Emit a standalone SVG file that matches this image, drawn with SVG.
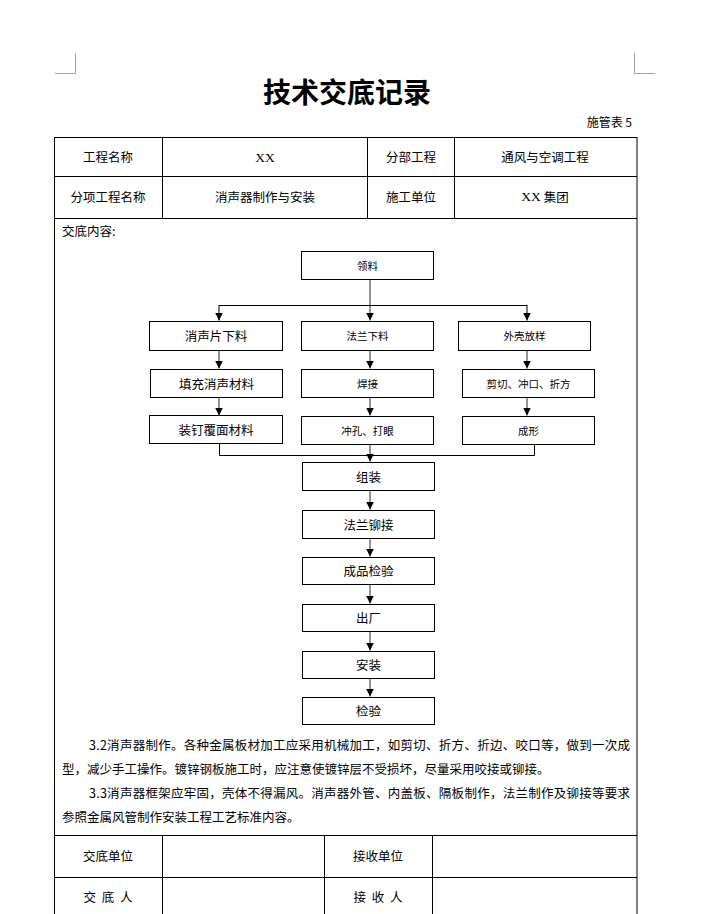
<svg xmlns="http://www.w3.org/2000/svg" width="710" height="914" viewBox="0 0 710 914">
<style>
text{font-family:"Noto Sans CJK SC","Noto Sans",sans-serif;fill:#000;}
.t{font-size:12.5px;text-anchor:middle;dominant-baseline:central;}
.s{font-size:10.5px;text-anchor:middle;dominant-baseline:central;}
.p{font-size:12.5px;dominant-baseline:central;}
.grid{stroke:#000;stroke-width:1;fill:none;}
.box{fill:#fff;stroke:#000;stroke-width:1;}
.g{stroke:#7a7a7a;stroke-width:1.6;fill:none;}
.k{stroke:#000;stroke-width:1;fill:none;}
.mark{stroke:#a0a0a0;stroke-width:1;fill:none;}
.serif{font-family:"Liberation Serif",serif;}
</style>
<defs>
<marker id="ah" markerUnits="userSpaceOnUse" markerWidth="8" markerHeight="8" refX="8" refY="4" orient="auto">
<path d="M0,0 L8,4 L0,8 z" fill="#000"/>
</marker>
</defs>
<rect width="710" height="914" fill="#fff"/>
<!-- page corner marks -->
<path class="mark" d="M75.5,53 V73.5 H55"/>
<path class="mark" d="M634.5,53 V73.5 H655"/>
<!-- title -->
<text x="347" y="91" style="font-size:28px;font-weight:bold;text-anchor:middle;dominant-baseline:central;">技术交底记录</text>
<text x="632" y="121" style="font-size:12px;text-anchor:end;dominant-baseline:central;">施管表 5</text>
<!-- table -->
<g id="table">
<rect class="grid" x="54.5" y="137.5" width="582.5" height="790"/>
<path class="grid" d="M54.5,176.5 H637 M54.5,218.5 H637 M162.5,137.5 V218.5 M367.5,137.5 V218.5 M454.5,137.5 V218.5"/>
<path class="grid" d="M54.5,835.5 H637 M54.5,877.5 H637 M162.5,835.5 V914 M324.5,835.5 V914 M432.5,835.5 V914"/>
<text class="t" x="108" y="156.5">工程名称</text>
<text class="t" x="265" y="156.5"><tspan class="serif" style="font-size:13.5px">XX</tspan></text>
<text class="t" x="411" y="156.5">分部工程</text>
<text class="t" x="545" y="156.5">通风与空调工程</text>
<text class="t" x="108" y="196">分项工程名称</text>
<text class="t" x="265" y="196">消声器制作与安装</text>
<text class="t" x="411" y="196">施工单位</text>
<text class="t" x="545" y="196"><tspan class="serif" style="font-size:13.5px">XX</tspan> 集团</text>
<text class="p" x="62" y="230">交底内容:</text>
<text class="t" x="108" y="855">交底单位</text>
<text class="t" x="378" y="855">接收单位</text>
<text class="t" x="108" y="896" textLength="49" lengthAdjust="spacing" xml:space="preserve">交 底 人</text>
<text class="t" x="378" y="896" textLength="49" lengthAdjust="spacing" xml:space="preserve">接 收 人</text>
</g>
<!-- connectors -->
<g id="connectors">
<path class="g" d="M370,279 V320.5" marker-end="url(#ah)"/>
<path class="k" d="M219,305.5 H527"/>
<path class="k" d="M219,305 V320.5" marker-end="url(#ah)"/>
<path class="k" d="M527,305 V320.5" marker-end="url(#ah)"/>
<path class="g" d="M219,350 V368.5" marker-end="url(#ah)"/>
<path class="g" d="M370,350 V368.5" marker-end="url(#ah)"/>
<path class="g" d="M527,350 V368.5" marker-end="url(#ah)"/>
<path class="g" d="M219,398 V415.5" marker-end="url(#ah)"/>
<path class="g" d="M370,398 V415.5" marker-end="url(#ah)"/>
<path class="g" d="M527,398 V415.5" marker-end="url(#ah)"/>
<path class="k" d="M219.5,444 V455.5 H534.5 V444"/>
<path class="g" d="M370,444 V461.5" marker-end="url(#ah)"/>
<path class="g" d="M370,490 V509.5" marker-end="url(#ah)"/>
<path class="g" d="M370,538 V556.5" marker-end="url(#ah)"/>
<path class="g" d="M370,584 V603.5" marker-end="url(#ah)"/>
<path class="g" d="M370,631 V650.5" marker-end="url(#ah)"/>
<path class="g" d="M370,678 V696.5" marker-end="url(#ah)"/>
</g>
<!-- nodes -->
<g id="n-lingliao"><rect class="box" x="301.5" y="251.5" width="132" height="28"/><text class="s" x="367.5" y="265">领料</text></g>
<g id="n-xsp"><rect class="box" x="149.5" y="321.5" width="133" height="29"/><text class="t" x="216" y="335.5">消声片下料</text></g>
<g id="n-flxl"><rect class="box" x="301.5" y="321.5" width="132" height="29"/><text class="s" x="367.5" y="335.5">法兰下料</text></g>
<g id="n-wkfy"><rect class="box" x="458.5" y="321.5" width="132" height="29"/><text class="s" x="524.5" y="335.5">外壳放样</text></g>
<g id="n-tc"><rect class="box" x="150.5" y="369.5" width="132" height="28"/><text class="t" x="216.5" y="383">填充消声材料</text></g>
<g id="n-hj"><rect class="box" x="301.5" y="369.5" width="132" height="28"/><text class="s" x="367.5" y="383">焊接</text></g>
<g id="n-jq"><rect class="box" x="462.5" y="369.5" width="132" height="28"/><text class="s" x="528.5" y="383">剪切、冲口、折方</text></g>
<g id="n-zd"><rect class="box" x="149.5" y="415.5" width="133" height="28"/><text class="t" x="216" y="429">装钉覆面材料</text></g>
<g id="n-ck"><rect class="box" x="301.5" y="416.5" width="132" height="28"/><text class="s" x="367.5" y="430">冲孔、打眼</text></g>
<g id="n-cx"><rect class="box" x="462.5" y="416.5" width="132" height="28"/><text class="s" x="528.5" y="430">成形</text></g>
<g id="n-zz"><rect class="box" x="302.5" y="462.5" width="132" height="28"/><text class="t" x="368.5" y="476">组装</text></g>
<g id="n-flmj"><rect class="box" x="302.5" y="510.5" width="132" height="28"/><text class="t" x="368.5" y="524">法兰铆接</text></g>
<g id="n-cpjy"><rect class="box" x="302.5" y="557.5" width="132" height="27"/><text class="t" x="368.5" y="570.5">成品检验</text></g>
<g id="n-cc"><rect class="box" x="302.5" y="604.5" width="132" height="27"/><text class="t" x="368.5" y="617.5">出厂</text></g>
<g id="n-az"><rect class="box" x="302.5" y="651.5" width="132" height="27"/><text class="t" x="368.5" y="664.5">安装</text></g>
<g id="n-jy"><rect class="box" x="302.5" y="697.5" width="132" height="27"/><text class="t" x="368.5" y="710.5">检验</text></g>
<!-- paragraph -->
<g id="paragraph">
<text class="p" x="89" y="744.5" textLength="541" lengthAdjust="spacing">3.2消声器制作。各种金属板材加工应采用机械加工，如剪切、折方、折边、咬口等，做到一次成</text>
<text class="p" x="62" y="768.5">型，减少手工操作。镀锌钢板施工时，应注意使镀锌层不受损坏，尽量采用咬接或铆接。</text>
<text class="p" x="89" y="792.5" textLength="541" lengthAdjust="spacing">3.3消声器框架应牢固，壳体不得漏风。消声器外管、内盖板、隔板制作，法兰制作及铆接等要求</text>
<text class="p" x="62" y="816.5">参照金属风管制作安装工程工艺标准内容。</text>
</g>
</svg>
